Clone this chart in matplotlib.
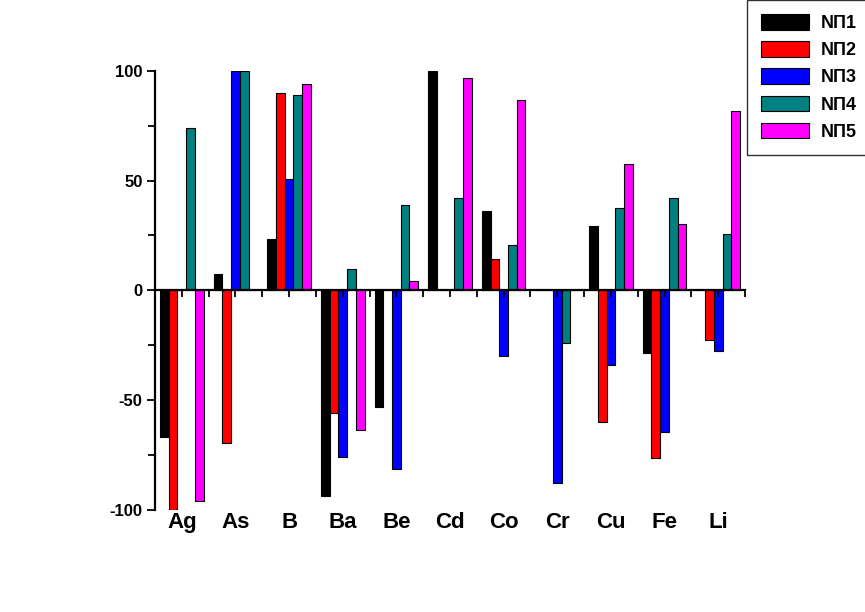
import matplotlib
matplotlib.use("Agg")
import matplotlib.pyplot as plt
import matplotlib.transforms as mtransforms
import numpy as np

plt.rcParams["font.family"] = ["Liberation Sans", "DejaVu Sans"]
plt.rcParams["font.weight"] = "bold"
plt.rcParams["axes.unicode_minus"] = False

# данные
elements = ["Ag", "As", "B", "Ba", "Be", "Cd", "Co", "Cr", "Cu", "Fe", "Li"]
series_names = ["NП1", "NП2", "NП3", "NП4", "NП5"]
np1 = [-66.8, 7.3, 23.4, -93.4, -53.1, 100, 36.3, 0, 29.3, -28.6, 0]
np2 = [-100, -69.4, 90.0, -55.7, 0, 0, 14.4, 0, -59.8, -76.2, -22.5]
np3 = [0, 100, 50.6, -75.9, -81.2, 0, -29.8, -87.6, -34.2, -64.5, -27.6]
np4 = [73.7, 100, 89.1, 9.9, 38.7, 42.2, 20.5, -24.0, 37.7, 42.0, 25.5]
np5 = [-96.0, 0, 93.8, -63.8, 4.3, 96.7, 86.6, 0, 57.3, 30.4, 81.6]
colors = ["#000000", "#ff0000", "#0000ff", "#008080", "#ff00ff"]

fig = plt.figure(figsize=(8.65, 6.12), dpi=100)
ax = fig.add_axes([155 / 865, 102 / 612, 590 / 865, 439.3 / 612])

x = np.arange(len(elements))
width = 0.163
for i, vals in enumerate([np1, np2, np3, np4, np5]):
    ax.bar(x + (i - 2) * width, vals, width, color=colors[i],
           edgecolor="black", linewidth=0.8, label=series_names[i])

ax.set_xlim(-0.5, len(elements) - 0.5)
ax.set_ylim(-100, 100)

for s in ["top", "right"]:
    ax.spines[s].set_visible(False)
ax.spines["bottom"].set_position(("data", 0))
ax.spines["bottom"].set_linewidth(1.6)
ax.spines["left"].set_linewidth(1.6)

ax.set_xticks(np.arange(-0.5, len(elements), 0.5))
ax.set_xticklabels([])
ax.tick_params(axis="x", direction="out", length=5, width=1.3)

ax.set_yticks([-100, -50, 0, 50, 100])
ax.set_yticks([-75, -25, 25, 75], minor=True)
ax.tick_params(axis="y", which="major", direction="out", length=6, width=1.3,
               labelsize=12, pad=3)
ax.tick_params(axis="y", which="minor", direction="out", length=5, width=1.3)
for lbl in ax.get_yticklabels():
    lbl.set_fontweight("bold")

trans = mtransforms.blended_transform_factory(ax.transData, ax.transAxes)
for xi, name in zip(x, elements):
    ax.text(xi, -0.005, name, transform=trans, ha="center", va="top",
            fontsize=16, fontweight="bold")

leg = ax.legend(loc="upper left", bbox_to_anchor=(747 / 865, 1.0),
                bbox_transform=fig.transFigure, frameon=True, fancybox=False,
                edgecolor="black", fontsize=13, handlelength=2.65,
                handleheight=0.95, labelspacing=0.5, borderpad=0.8,
                handletextpad=0.65, borderaxespad=0)
leg.get_frame().set_linewidth(1.0)
for t in leg.get_texts():
    t.set_fontweight("bold")

fig.savefig("out.png", dpi=100)
